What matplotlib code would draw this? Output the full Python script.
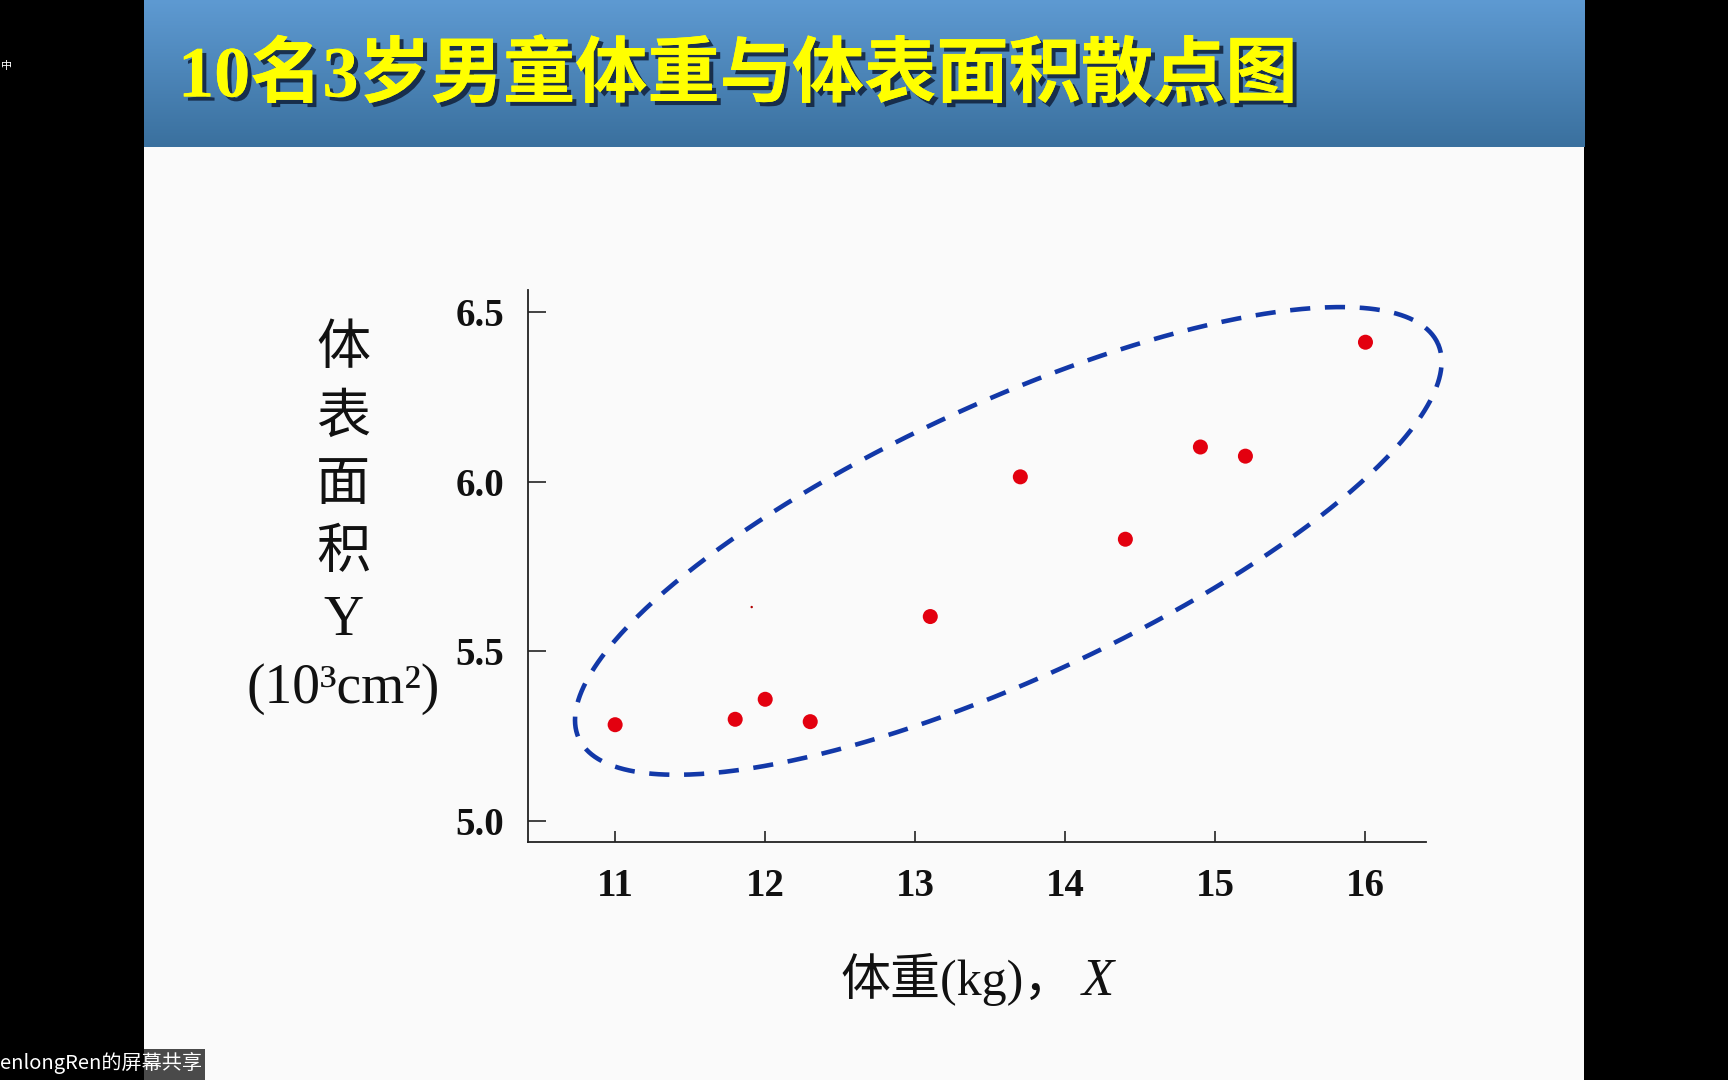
import numpy as np
import matplotlib
matplotlib.use('Agg')
import matplotlib.pyplot as plt
import matplotlib.patheffects as pe
from matplotlib.patches import Rectangle

# ---------------- data ----------------
weight = [11.0, 11.8, 12.0, 12.3, 13.1, 13.7, 14.4, 14.9, 15.2, 16.0]
area = [5.283, 5.299, 5.358, 5.292, 5.602, 6.014, 5.830, 6.102, 6.075, 6.411]
x_ticks = [11, 12, 13, 14, 15, 16]
x_tick_labels = ['11', '12', '13', '14', '15', '16']
y_ticks = [5.0, 5.5, 6.0, 6.5]
y_tick_labels = ['5.0', '5.5', '6.0', '6.5']
title = '10名3岁男童体重与体表面积散点图'
ylabel_lines = ['体', '表', '面', '积', 'Y', '(10³cm²)']
xlabel_text = '体重(kg)，'
xlabel_var = 'X'
stray_x = [11.91]
stray_y = [5.63]
share_label = 'enlongRen的屏幕共享'

# dashed ellipse enclosing the points (centre in data units, semi-axes in kg units)
ell_cx, ell_cy = 13.62, 5.825
ell_a, ell_b = 3.15, 0.918
ell_angle = 24.7

W, H = 1728, 1080
fig = plt.figure(figsize=(W / 100, H / 100), dpi=100, facecolor='black')


def fx(px):
    return px / W


def fy(py):
    return 1 - py / H


SERIF = ['Liberation Serif', 'Noto Sans CJK SC']
CJK = ['Noto Sans CJK SC', 'DejaVu Sans']

# slide background
fig.add_artist(Rectangle((fx(144), 0), (1584 - 144) / W, 1, transform=fig.transFigure,
                         facecolor='#fafafa', edgecolor='none', zorder=0))

# header gradient
hax = fig.add_axes([fx(144), fy(147), (1584 - 144) / W, 147 / H])
top = np.array([94, 154, 210]) / 255
bot = np.array([58, 112, 158]) / 255
g = np.linspace(0, 1, 256)[:, None]
grad = top[None, None, :] * (1 - g[..., None]) + bot[None, None, :] * g[..., None]
grad = np.repeat(grad, 2, axis=1)
hax.imshow(grad, aspect='auto', extent=[0, 1, 0, 1])
hax.axis('off')

fig.text(fx(178), fy(77), title, color='#ffff00', fontsize=52, fontweight='bold',
         family=SERIF, va='center', ha='left',
         path_effects=[pe.withSimplePatchShadow(offset=(3, -3), shadow_rgbFace='#10203a', alpha=0.85),
                       pe.Normal()])

# ---------------- main axes ----------------
ax = fig.add_axes([527.5 / W, fy(841.7), (1425.5 - 527.5) / W, (841.7 - 290) / H])
ax.set_facecolor('none')
ax.set_xlim(10.416, 16.40)
ax.set_ylim(4.938, 6.565)
for s in ['top', 'right']:
    ax.spines[s].set_visible(False)
for s in ['left', 'bottom']:
    ax.spines[s].set_color('#222222')
    ax.spines[s].set_linewidth(1.3)

ax.set_xticks(x_ticks)
ax.set_xticklabels(x_tick_labels)
ax.set_yticks(y_ticks)
ax.set_yticklabels(y_tick_labels)
ax.tick_params(axis='y', direction='in', length=13, width=1.1, pad=17, labelsize=28, colors='#111111')
ax.tick_params(axis='x', direction='in', length=8, width=1.1, pad=19, labelsize=28, colors='#111111')
for t in ax.get_xticklabels() + ax.get_yticklabels():
    t.set_fontfamily('Liberation Serif')
    t.set_fontweight('bold')

ax.scatter(weight, area, s=117, c='#e3000f', edgecolors='none', zorder=3)
ax.scatter(stray_x, stray_y, s=3, c='#b00000', edgecolors='none', zorder=3)

# ellipse drawn in data space, corrected for unequal pixel scales
p0 = ax.transData.transform((0, 0))
p1 = ax.transData.transform((1, 1))
k = (p1[1] - p0[1]) / (p1[0] - p0[0])
tt = np.linspace(0, 2 * np.pi, 500)
th = np.deg2rad(ell_angle)
ex = ell_cx + ell_a * np.cos(th) * np.cos(tt) - ell_b * np.sin(th) * np.sin(tt)
ey = ell_cy + (ell_a * np.sin(th) * np.cos(tt) + ell_b * np.cos(th) * np.sin(tt)) / k
ax.plot(ex, ey, ls=(0, (4.4, 3.2)), lw=3.3, color='#1238a8', clip_on=False, zorder=2)

# y label (vertical stacked)
for i, line in enumerate(ylabel_lines):
    is_cjk = i < 4
    fig.text(fx(343), fy(349 + 68 * i), line, ha='center', va='center',
             fontsize=39 if is_cjk else 40,
             family=CJK if is_cjk else SERIF, color='#111111')

# x label
fig.text(fx(841), fy(995), xlabel_text, ha='left', va='baseline', fontsize=36,
         family=SERIF, color='#111111')
fig.text(fx(1082), fy(995), xlabel_var, ha='left', va='baseline', fontsize=38,
         family=SERIF, style='italic', color='#111111')

# screen-share overlay bits
fig.add_artist(Rectangle((fx(144), 0), (205 - 144) / W, 31 / H, transform=fig.transFigure,
                         facecolor='#4a4a4a', edgecolor='none', zorder=5))
fig.text(fx(0), fy(1063), share_label, color='white', fontsize=14.5, family=CJK,
         va='center', ha='left', zorder=6)
fig.text(fx(1), fy(66), '中', color='white', fontsize=8, family=CJK, va='center', ha='left')

fig.savefig('out.png', dpi=100, facecolor=fig.get_facecolor())
